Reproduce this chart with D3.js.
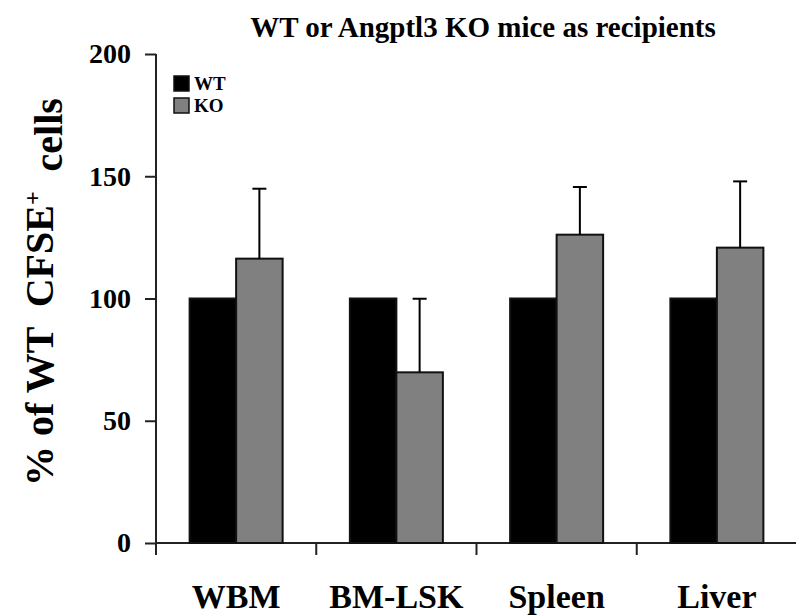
<!DOCTYPE html>
<html>
<head>
<meta charset="utf-8">
<script src="https://cdn.jsdelivr.net/npm/d3@7"></script>
<style>
  body { margin: 0; background: #fff; }
  text { font-family: "Liberation Serif", "Times New Roman", serif; font-weight: bold; fill: #000; }
</style>
</head>
<body>
<div class="chart"></div>
<script>
// data
var categories = ["WBM", "BM-LSK", "Spleen", "Liver"];
var groups = ["WT", "KO"];
var wtValues = [100, 100, 100, 100];
var koValues = [116.3, 69.8, 126.1, 120.8];
var koErrors = [28.6, 30.1, 19.5, 27.1];
var yTicks = [0, 50, 100, 150, 200];

var svgWidth = 796;
var svgHeight = 615;

var margin = {
  top: 54,
  right: 0,
  bottom: 72,
  left: 156
};

var width = svgWidth - margin.left - margin.right;
var height = svgHeight - margin.top - margin.bottom;

var svg = d3
  .select(".chart")
  .append("svg")
  .attr("width", svgWidth)
  .attr("height", svgHeight);

var chartGroup = svg.append("g")
  .attr("transform", `translate(${margin.left}, ${margin.top})`);

// one row per category
var rows = categories.map(function(c, i) {
  return { cat: c, WT: wtValues[i], KO: koValues[i], err: koErrors[i] };
});

// scales
var x0 = d3.scaleBand()
  .domain(categories)
  .range([0, width + 1])
  .padding(0);

var x1 = d3.scaleBand()
  .domain(groups)
  .range([0, x0.bandwidth()])
  .paddingInner(0)
  .paddingOuter(0.723);

var yLinearScale = d3.scaleLinear()
  .domain([0, 200])
  .range([height, 0]);

var colors = { WT: "#000000", KO: "#808080" };

// y axis
var leftAxis = d3.axisLeft(yLinearScale)
  .tickValues(yTicks)
  .tickSize(11)
  .tickPadding(14);

var yAxis = chartGroup.append("g")
  .call(leftAxis);

yAxis.select(".domain")
  .attr("d", `M0,0V${height + 12}`);

// x axis, ticks sit on the band boundaries
var xAxis = chartGroup.append("g")
  .attr("transform", `translate(0, ${height})`);

xAxis.append("line")
  .attr("x1", 0)
  .attr("x2", width)
  .attr("y1", 0)
  .attr("y2", 0);

xAxis.selectAll(".xtick")
  .data(categories.slice(1))
  .enter()
  .append("line")
  .attr("class", "xtick")
  .attr("x1", d => x0(d))
  .attr("x2", d => x0(d))
  .attr("y1", 0)
  .attr("y2", 12);

xAxis.selectAll(".xlabel")
  .data(categories)
  .enter()
  .append("text")
  .attr("class", "xlabel")
  .attr("x", d => x0(d) + x0.bandwidth() / 2)
  .attr("y", 65)
  .attr("text-anchor", "middle")
  .style("font-size", "34px")
  .text(d => d);

svg.selectAll("line, path.domain")
  .attr("stroke", "#222")
  .attr("stroke-width", 2);

yAxis.selectAll(".tick line")
  .attr("stroke", "#222")
  .attr("stroke-width", 2);

yAxis.selectAll(".tick text")
  .style("font-size", "28px")
  .attr("fill", "#000");

// bars
var catGroups = chartGroup.selectAll(".cat")
  .data(rows)
  .enter()
  .append("g")
  .attr("class", "cat")
  .attr("transform", d => `translate(${x0(d.cat)}, 0)`);

catGroups.selectAll("rect")
  .data(d => groups.map(function(g) { return { key: g, value: d[g] }; }))
  .enter()
  .append("rect")
  .attr("x", d => x1(d.key))
  .attr("y", d => yLinearScale(d.value))
  .attr("width", x1.bandwidth())
  .attr("height", d => height - yLinearScale(d.value))
  .attr("fill", d => colors[d.key])
  .attr("stroke", "#111")
  .attr("stroke-width", 2);

// error bars (upper only) on the KO bars
var errGroup = catGroups.append("g")
  .attr("stroke", "#000")
  .attr("stroke-width", 2);

errGroup.append("line")
  .attr("x1", x1("KO") + x1.bandwidth() / 2)
  .attr("x2", x1("KO") + x1.bandwidth() / 2)
  .attr("y1", d => yLinearScale(d.KO))
  .attr("y2", d => yLinearScale(d.KO + d.err));

errGroup.append("line")
  .attr("x1", x1("KO") + x1.bandwidth() / 2 - 7)
  .attr("x2", x1("KO") + x1.bandwidth() / 2 + 7)
  .attr("y1", d => yLinearScale(d.KO + d.err))
  .attr("y2", d => yLinearScale(d.KO + d.err));

// legend
var legend = svg.append("g")
  .attr("transform", "translate(174, 76)");

var legendItems = legend.selectAll("g")
  .data(groups)
  .enter()
  .append("g")
  .attr("transform", (d, i) => `translate(0, ${i * 22})`);

legendItems.append("rect")
  .attr("width", 15)
  .attr("height", 15)
  .attr("fill", d => colors[d])
  .attr("stroke", "#111")
  .attr("stroke-width", 1.5);

legendItems.append("text")
  .attr("x", 20)
  .attr("y", 14)
  .style("font-size", "19px")
  .text(d => d);

// title
svg.append("text")
  .attr("x", 483)
  .attr("y", 37)
  .attr("text-anchor", "middle")
  .style("font-size", "29px")
  .text("WT or Angptl3 KO mice as recipients");

// y axis label
var yLabel = svg.append("text")
  .attr("transform", "translate(53, 292) rotate(-90)")
  .attr("text-anchor", "middle")
  .style("font-size", "40px")
  .attr("xml:space", "preserve");

yLabel.append("tspan").text("% of WT  CFSE");
yLabel.append("tspan")
  .attr("dy", "-0.55em")
  .style("font-size", "24px")
  .text("+");
yLabel.append("tspan")
  .attr("dy", "0.55em")
  .style("font-size", "40px")
  .text("  cells");
</script>
</body>
</html>
